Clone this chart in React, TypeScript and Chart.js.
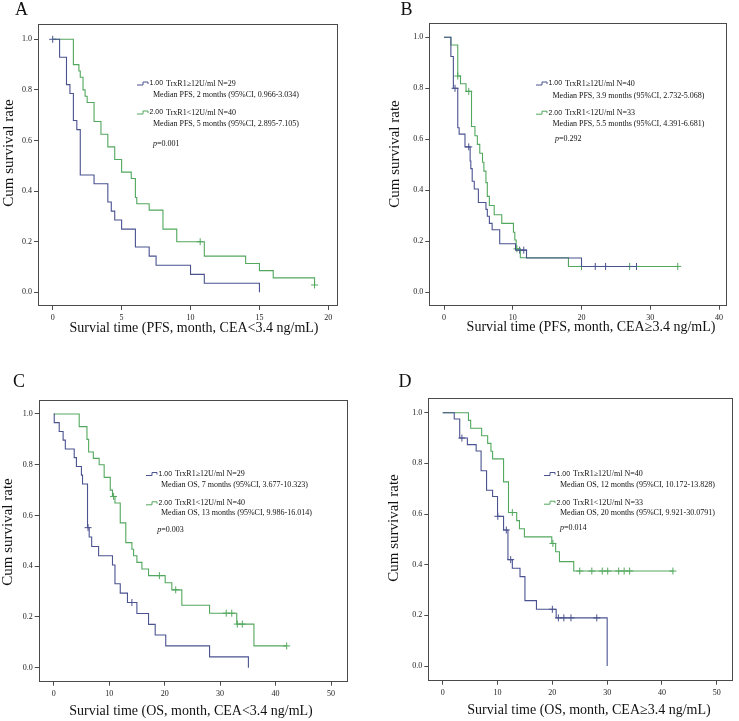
import React, { useEffect, useRef } from "react";
import { Chart, registerables } from "chart.js";
Chart.register(...registerables);

// ---------------- Data ----------------
// Panel A (PFS, CEA<3.4)
const aHighTime = [0, 0.5, 1, 1.25, 1.5, 1.75, 2, 3, 4, 4.25, 4.5, 5, 6, 7, 7.5, 10, 11, 15];
const aHighSurv = [1, 0.929, 0.821, 0.786, 0.679, 0.643, 0.464, 0.429, 0.357, 0.321, 0.286, 0.25, 0.179, 0.143, 0.107, 0.071, 0.036, 0];
const aHighCensTime = [0];
const aHighCensSurv = [1];
const aLowTime = [0, 1.5, 1.9, 2, 2.2, 2.35, 2.5, 3, 3.5, 4, 4.5, 5, 5.7, 6, 6.1, 7, 8, 9, 11, 14, 15, 16, 19];
const aLowSurv = [1, 0.9, 0.875, 0.85, 0.8, 0.775, 0.75, 0.675, 0.625, 0.575, 0.525, 0.475, 0.45, 0.375, 0.35, 0.325, 0.25, 0.2, 0.143, 0.114, 0.086, 0.057, 0.029];
const aLowCensTime = [10.7, 19];
const aLowCensSurv = [0.2, 0.029];

// Panel B (PFS, CEA>=3.4)
const bHighTime = [0, 1.0, 1.36, 2.0, 2.2, 3.05, 3.8, 3.9, 4.1, 4.4, 5.0, 6.1, 6.3, 6.6, 7.0, 8.1, 10.4, 12.0, 20.0, 28];
const bHighSurv = [1, 0.925, 0.8, 0.645, 0.62, 0.57, 0.515, 0.485, 0.435, 0.405, 0.352, 0.325, 0.298, 0.27, 0.245, 0.19, 0.165, 0.134, 0.101, 0.101];
const bHighCensTime = [1.6, 3.6, 11.0, 11.6, 22, 23.5, 28];
const bHighCensSurv = [0.8, 0.57, 0.165, 0.165, 0.101, 0.101, 0.101];
const bLowTime = [0, 1.0, 2.0, 2.4, 3.2, 4.0, 4.5, 4.85, 5.2, 5.6, 5.8, 6.1, 6.3, 6.6, 7.3, 8.4, 10.1, 10.3, 10.5, 11.1, 18.1, 34];
const bLowSurv = [1, 0.97, 0.848, 0.818, 0.788, 0.65, 0.614, 0.58, 0.545, 0.51, 0.475, 0.43, 0.376, 0.34, 0.304, 0.27, 0.235, 0.205, 0.17, 0.135, 0.101, 0.101];
const bLowCensTime = [2.0, 3.6, 10.6, 20, 27, 34];
const bLowCensSurv = [0.848, 0.788, 0.17, 0.101, 0.101, 0.101];

// Panel C (OS, CEA<3.4)
const cHighTime = [0, 0.1, 1.0, 1.7, 2.1, 3.7, 4.1, 5.0, 5.2, 6.1, 6.4, 6.85, 8.1, 10.6, 11.05, 12, 13.3, 15, 17.1, 18.3, 20.2, 28.1, 35.1];
const cHighSurv = [1, 0.966, 0.931, 0.897, 0.862, 0.828, 0.793, 0.759, 0.724, 0.552, 0.515, 0.478, 0.441, 0.405, 0.331, 0.294, 0.257, 0.214, 0.171, 0.129, 0.086, 0.043, 0];
const cHighCensTime = [6.2, 14.1];
const cHighCensSurv = [0.552, 0.257];
const cLowTime = [0, 4.6, 6.0, 6.3, 7.15, 8.2, 9.1, 10.2, 10.6, 11.05, 12, 13, 14.1, 14.4, 15, 15.9, 17.1, 20.1, 21.3, 23.1, 28.1, 33, 36.1, 42];
const cLowSurv = [1, 0.95, 0.9, 0.85, 0.825, 0.8, 0.75, 0.7, 0.675, 0.649, 0.571, 0.493, 0.467, 0.441, 0.415, 0.389, 0.363, 0.335, 0.307, 0.246, 0.215, 0.172, 0.086, 0.086];
const cLowCensTime = [10.8, 19.05, 22, 31.1, 32.1, 33.1, 34, 42];
const cLowCensSurv = [0.675, 0.363, 0.307, 0.215, 0.215, 0.172, 0.172, 0.086];

// Panel D (OS, CEA>=3.4)
const dHighTime = [0, 2.1, 3.1, 4.5, 6.1, 7.0, 8.0, 9.1, 10.0, 11.1, 11.9, 12.7, 14.1, 15.0, 17.1, 20.7, 30];
const dHighSurv = [1, 0.975, 0.9, 0.874, 0.849, 0.771, 0.694, 0.669, 0.591, 0.537, 0.42, 0.386, 0.353, 0.258, 0.224, 0.19, 0];
const dHighCensTime = [3.5, 10.05, 11.6, 12.4, 20.0, 21.1, 22.1, 23.4, 28.1];
const dHighCensSurv = [0.9, 0.591, 0.537, 0.42, 0.224, 0.19, 0.19, 0.19, 0.19];
const dLowTime = [0, 4.7, 5.1, 7.1, 8.2, 8.8, 9.1, 11.1, 12.0, 13.5, 14.0, 14.9, 19.9, 20.6, 21.3, 23.9, 42];
const dLowSurv = [1, 0.97, 0.939, 0.909, 0.879, 0.848, 0.818, 0.727, 0.606, 0.574, 0.542, 0.51, 0.484, 0.451, 0.412, 0.375, 0.375];
const dLowCensTime = [12.7, 20.1, 25.0, 27.2, 29.1, 30.1, 32.1, 33.1, 34.1, 42];
const dLowCensSurv = [0.606, 0.484, 0.375, 0.375, 0.375, 0.375, 0.375, 0.375, 0.375, 0.375];

// Tick values
const yTickValues = [0, 0.2, 0.4, 0.6, 0.8, 1.0];
const xTicksA = [0, 5, 10, 15, 20];
const xTicksB = [0, 10, 20, 30, 40];
const xTicksC = [0, 10, 20, 30, 40, 50];
const xTicksD = [0, 10, 20, 30, 40, 50];

// Texts
const panelLetters = ["A", "B", "C", "D"];
const xTitles = [
  "Survial time (PFS, month, CEA<3.4 ng/mL)",
  "Survial time (PFS, month, CEA≥3.4 ng/mL)",
  "Survial time (OS, month, CEA<3.4 ng/mL)",
  "Survial time (OS, month, CEA≥3.4 ng/mL)",
];
const yTitle = "Cum survival rate";
const groupCodes = ["1.00", "2.00"];
const highLabels = ["TrxR1≥12U/ml N=29", "TrxR1≥12U/ml N=40", "TrxR1≥12U/ml N=29", "TrxR1≥12U/ml N=40"];
const lowLabels = ["TrxR1<12U/ml N=40", "TrxR1<12U/ml N=33", "TrxR1<12U/ml N=40", "TrxR1<12U/ml N=33"];
const highMedians = [
  "Median PFS, 2 months (95%CI, 0.966-3.034)",
  "Median PFS, 3.9 months (95%CI, 2.732-5.068)",
  "Median OS, 7 months (95%CI, 3.677-10.323)",
  "Median OS, 12 months (95%CI, 10.172-13.828)",
];
const lowMedians = [
  "Median PFS, 5 months (95%CI, 2.895-7.105)",
  "Median PFS, 5.5 months (95%CI, 4.391-6.681)",
  "Median OS, 13 months (95%CI, 9.986-16.014)",
  "Median OS, 20 months (95%CI, 9.921-30.0791)",
];
const pValues = ["0.001", "0.292", "0.003", "0.014"];

// ---------------- Styles / layout ----------------
const BLUE = "#4a5290";
const GREEN = "#52a85e";
const FRAME = "#4a4a4a";
const SERIF = '"Liberation Serif", "Times New Roman", serif';
const SANS = '"Liberation Sans", Arial, sans-serif';

type Series = { t: number[]; s: number[]; ct: number[]; cs: number[] };
type Panel = {
  left: number; top: number; w: number; h: number;
  area: { l: number; t: number; r: number; b: number };
  xMin: number; xMax: number; yMin: number; yMax: number;
  xTicks: number[];
  high: Series; low: Series;
  letter: [number, number];
  yTitlePos: [number, number];
  xTitlePos: [number, number];
  iconX: number; codeX: number; medX: number; pX: number;
  rows: [number, number, number, number, number];
};

const panels: Panel[] = [
  {
    left: 0, top: 0, w: 370, h: 340,
    area: { l: 38, t: 24, r: 338, b: 306 },
    xMin: -1.067, xMax: 20.7, yMin: -0.054, yMax: 1.0605,
    xTicks: xTicksA,
    high: { t: aHighTime, s: aHighSurv, ct: aHighCensTime, cs: aHighCensSurv },
    low: { t: aLowTime, s: aLowSurv, ct: aLowCensTime, cs: aLowCensSurv },
    letter: [21.5, 10.5], yTitlePos: [9, 153], xTitlePos: [194, 328],
    iconX: 137, codeX: 149.5, medX: 153, pX: 153,
    rows: [83.5, 95, 112.5, 123.5, 143.5],
  },
  {
    left: 370, top: 0, w: 369, h: 340,
    area: { l: 59.3, t: 23.3, r: 356.7, b: 305.7 },
    xMin: -2.14, xMax: 41.12, yMin: -0.053, yMax: 1.055,
    xTicks: xTicksB,
    high: { t: bHighTime, s: bHighSurv, ct: bHighCensTime, cs: bHighCensSurv },
    low: { t: bLowTime, s: bLowSurv, ct: bLowCensTime, cs: bLowCensSurv },
    letter: [36.5, 10.5], yTitlePos: [25, 154], xTitlePos: [221, 327],
    iconX: 166, codeX: 178.5, medX: 182.5, pX: 185,
    rows: [83.5, 96, 112.7, 124, 139.3],
  },
  {
    left: 0, top: 340, w: 370, h: 381,
    area: { l: 38.7, t: 60, r: 347.7, b: 341.7 },
    xMin: -2.7, xMax: 53.0, yMin: -0.055, yMax: 1.055,
    xTicks: xTicksC,
    high: { t: cHighTime, s: cHighSurv, ct: cHighCensTime, cs: cHighCensSurv },
    low: { t: cLowTime, s: cLowSurv, ct: cLowCensTime, cs: cLowCensSurv },
    letter: [19, 42.5], yTitlePos: [8, 192], xTitlePos: [191, 371.5],
    iconX: 146, codeX: 158.5, medX: 161, pX: 157.3,
    rows: [134, 145.3, 163.3, 173.3, 190],
  },
  {
    left: 370, top: 340, w: 369, h: 381,
    area: { l: 58.3, t: 58.3, r: 362.7, b: 340.7 },
    xMin: -2.63, xMax: 52.9, yMin: -0.058, yMax: 1.057,
    xTicks: xTicksD,
    high: { t: dHighTime, s: dHighSurv, ct: dHighCensTime, cs: dHighCensSurv },
    low: { t: dLowTime, s: dLowSurv, ct: dLowCensTime, cs: dLowCensSurv },
    letter: [35, 42.5], yTitlePos: [24, 188], xTitlePos: [219, 370],
    iconX: 174, codeX: 186.5, medX: 190, pX: 190,
    rows: [134, 145, 162.7, 173.3, 188.3],
  },
];

const pts = (t: number[], s: number[]) => t.map((x, i) => ({ x, y: s[i] }));

function drawIcon(ctx: CanvasRenderingContext2D, x: number, y: number, color: string) {
  ctx.save();
  ctx.strokeStyle = color;
  ctx.lineWidth = 1;
  ctx.beginPath();
  ctx.moveTo(x, y + 1.5);
  ctx.lineTo(x + 6, y + 1.5);
  ctx.lineTo(x + 6, y - 1.5);
  ctx.lineTo(x + 11, y - 1.5);
  ctx.lineTo(x + 11, y + 0.5);
  ctx.stroke();
  ctx.restore();
}

function makePlugin(i: number) {
  const p = panels[i];
  return {
    id: "kmDecor" + i,
    beforeDatasetsDraw(chart: any) {
      const { ctx, chartArea } = chart;
      ctx.save();
      ctx.strokeStyle = FRAME;
      ctx.lineWidth = 1;
      const l = Math.round(chartArea.left) + 0.5;
      const t = Math.round(chartArea.top) + 0.5;
      const r = Math.round(chartArea.right) - 0.5;
      const b = Math.round(chartArea.bottom) - 0.5;
      ctx.strokeRect(l, t, r - l, b - t);
      ctx.restore();
    },
    afterDraw(chart: any) {
      const ctx: CanvasRenderingContext2D = chart.ctx;
      ctx.save();
      ctx.fillStyle = "#111";
      ctx.textBaseline = "middle";
      // panel letter
      ctx.textAlign = "center";
      ctx.font = `18px ${SERIF}`;
      ctx.fillText(panelLetters[i], p.letter[0], p.letter[1]);
      // x title
      ctx.font = `14px ${SERIF}`;
      ctx.fillText(xTitles[i], p.xTitlePos[0], p.xTitlePos[1]);
      // y title
      ctx.save();
      ctx.translate(p.yTitlePos[0], p.yTitlePos[1]);
      ctx.rotate(-Math.PI / 2);
      ctx.font = `15px ${SERIF}`;
      ctx.fillText(yTitle, 0, 0);
      ctx.restore();
      // legend
      ctx.textAlign = "left";
      const [r1, r2, r3, r4, r5] = p.rows;
      drawIcon(ctx, p.iconX, r1, BLUE);
      drawIcon(ctx, p.iconX, r3, GREEN);
      ctx.font = `7px ${SANS}`;
      ctx.fillText(groupCodes[0], p.codeX, r1);
      ctx.fillText(groupCodes[1], p.codeX, r3);
      const codeW = ctx.measureText(groupCodes[0] + " ").width;
      ctx.font = `8px ${SERIF}`;
      ctx.fillText(highLabels[i], p.codeX + codeW + 1, r1);
      ctx.fillText(lowLabels[i], p.codeX + codeW + 1, r3);
      ctx.fillText(highMedians[i], p.medX, r2);
      ctx.fillText(lowMedians[i], p.medX, r4);
      ctx.font = `italic 8px ${SERIF}`;
      ctx.fillText("p", p.pX, r5);
      const pw = ctx.measureText("p").width;
      ctx.font = `8px ${SERIF}`;
      ctx.fillText("=" + pValues[i], p.pX + pw, r5);
      ctx.restore();
    },
  };
}

function KMPanel({ index }: { index: number }) {
  const ref = useRef<HTMLCanvasElement | null>(null);
  const p = panels[index];
  useEffect(() => {
    if (!ref.current) return;
    const lineDs = (ser: Series, color: string) => ({
      type: "line" as const,
      data: pts(ser.t, ser.s),
      stepped: "before" as const,
      borderColor: color,
      borderWidth: 1.1,
      pointRadius: 0,
      fill: false,
      tension: 0,
    });
    const censDs = (ser: Series, color: string) => ({
      type: "scatter" as const,
      data: pts(ser.ct, ser.cs),
      pointStyle: "cross" as const,
      pointRadius: 3.5,
      borderColor: color,
      backgroundColor: color,
      borderWidth: 1,
      showLine: false,
    });
    const tickFont = { family: SERIF, size: 8 };
    const chart = new Chart(ref.current, {
      type: "scatter",
      data: {
        datasets: [
          lineDs(p.high, BLUE),
          lineDs(p.low, GREEN),
          censDs(p.high, BLUE),
          censDs(p.low, GREEN),
        ] as any,
      },
      options: {
        animation: false,
        responsive: false,
        maintainAspectRatio: false,
        layout: { padding: { left: 0, top: p.area.t, right: p.w - p.area.r, bottom: 0 } },
        plugins: { legend: { display: false }, tooltip: { enabled: false }, title: { display: false } },
        scales: {
          x: {
            type: "linear",
            min: p.xMin,
            max: p.xMax,
            afterFit: (s: any) => { s.height = p.h - p.area.b; },
            afterBuildTicks: (s: any) => { s.ticks = p.xTicks.map((v) => ({ value: v })); },
            grid: { display: true, drawOnChartArea: false, drawTicks: true, tickLength: 4, color: FRAME, lineWidth: 1 },
            border: { display: false },
            ticks: { font: tickFont, color: "#222", padding: 3, maxRotation: 0, autoSkip: false, callback: (v: any) => String(v) },
          },
          y: {
            type: "linear",
            min: p.yMin,
            max: p.yMax,
            afterFit: (s: any) => { s.width = p.area.l; },
            afterBuildTicks: (s: any) => { s.ticks = yTickValues.map((v) => ({ value: v })); },
            grid: { display: true, drawOnChartArea: false, drawTicks: true, tickLength: 4, color: FRAME, lineWidth: 1 },
            border: { display: false },
            ticks: { font: tickFont, color: "#222", padding: 2, autoSkip: false, callback: (v: any) => Number(v).toFixed(1) },
          },
        },
      } as any,
      plugins: [makePlugin(index)],
    });
    return () => chart.destroy();
  }, [index]);
  return (
    <canvas
      ref={ref}
      width={p.w}
      height={p.h}
      style={{ position: "absolute", left: p.left, top: p.top, width: p.w, height: p.h }}
    />
  );
}

export default function App() {
  return (
    <div style={{ position: "absolute", left: 0, top: 0, width: 739, height: 721, background: "#fff", overflow: "hidden" }}>
      {panels.map((_, i) => (
        <KMPanel key={i} index={i} />
      ))}
    </div>
  );
}
